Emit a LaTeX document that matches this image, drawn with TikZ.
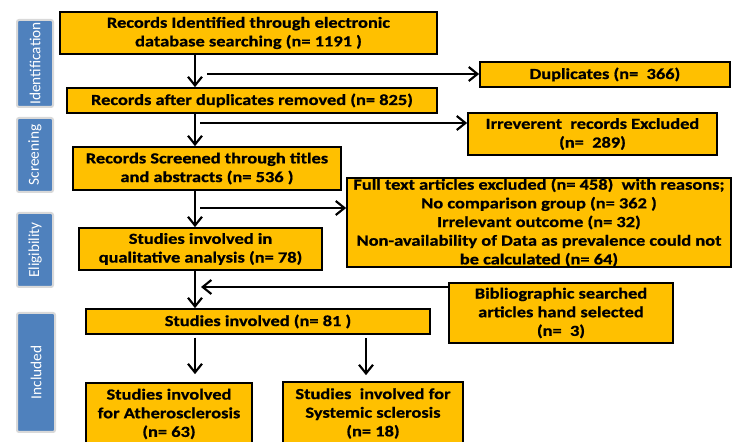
\documentclass[tikz,border=0pt]{standalone}
\usepackage{fontspec}
\setmainfont{Carlito}
\newfontfamily\boxfont{Carlito}[FakeStretch=1.2,BoldFeatures={FakeBold=0.8}]
\usetikzlibrary{arrows.meta}
\definecolor{boxorange}{HTML}{FFC000}
\definecolor{sideblue}{HTML}{4F81BD}
\begin{document}
\begin{tikzpicture}[x=0.75pt,y=-0.75pt,
  sz/.style 2 args={minimum width={#1*0.75pt},minimum height={#2*0.75pt}},
  ybox/.style={draw=black,line width=1.3pt,fill=boxorange,inner sep=0pt,align=center,font=\boxfont\fontsize{11.5}{14}\selectfont\bfseries},
  side/.style={fill=sideblue,draw=black!15,line width=1.5pt,rounded corners=1.5pt,inner sep=0pt,rotate=90,text=white,font=\fontsize{11.5}{12}\selectfont},
  arr/.style={line width=1.6pt,-{Straight Barb[length=6.5pt,width=10.5pt]}}
]
\useasboundingbox (0,0) rectangle (733,442);

% side labels
\node[side,sz={87}{36}] (sid) at (35,63.5) {Identification};
\node[side,sz={74}{36}] (sscr) at (35,155) {Screening};
\node[side,sz={74}{36}] (selig) at (35,250) {Eligibility};
\node[side,sz={119}{38}] (sincl) at (36,372.5) {Included};

% boxes
\node[ybox,sz={377}{42}] (b1) at (248.5,33) {Records Identified through electronic\\database searching (n= 1191 )};
\node[ybox,sz={370}{25}] (b2) at (252,100.5) {Records after duplicates removed (n= 825)};
\node[ybox,sz={250}{25}] (dup) at (605,74.5) {Duplicates (n=\ \ 366)};
\node[ybox,sz={249}{42}] (irr) at (592.5,134) {Irreverent\ \ records Excluded\\(n=\ \ 289)};
\node[ybox,sz={268}{43}] (b3) at (207,168.5) {Records Screened through titles\\and abstracts (n= 536 )};
\node[ybox,sz={384}{89}] (full) at (539,222.5) {Full text articles excluded (n= 458)\ \ with reasons;\\No comparison group (n= 362 )\\Irrelevant outcome (n= 32)\\Non-availability of Data as prevalence could not\\be calculated (n= 64)};
\node[ybox,sz={243}{42}] (b4) at (200.5,249) {Studies involved in\\qualitative analysis (n= 78)};
\node[ybox,sz={224}{60}] (bib) at (561,313) {Bibliographic searched\\articles hand selected\\(n=\ \ 3)};
\node[ybox,sz={344}{25}] (b5) at (258,321.5) {Studies involved (n= 81 )};
\node[ybox,sz={166}{62}] (b6) at (169,414) {Studies involved\\for Atherosclerosis\\(n= 63)};
\node[ybox,sz={180}{63}] (b7) at (373,413.5) {Studies\ \ involved for\\Systemic sclerosis\\(n= 18)};

% connectors
\coordinate (mx) at (195,0);
\coordinate (mx2) at (366,0);
\coordinate (h1) at (207,74);
\coordinate (h2) at (200,123);
\coordinate (h3) at (200,208);
\coordinate (h4) at (201,287);

\draw[arr] (b1.south -| mx) -- (b2.north -| mx);
\draw[arr] (b2.south -| mx) -- (b3.north -| mx);
\draw[arr] (b3.south -| mx) -- (b4.north -| mx);
\draw[arr] (b4.south -| mx) -- (b5.north -| mx);
\draw[arr,shorten <=2pt,shorten >=6pt] (b5.south -| mx) -- (b6.north -| mx);
\draw[arr,shorten <=2.5pt,shorten >=4.5pt] (b5.south -| mx2) -- (b7.north -| mx2);

\draw[arr] (h1) -- (h1 -| dup.west);
\draw[arr] (h2) -- (h2 -| irr.west);
\draw[arr] (h3) -- (h3 -| full.west);
\draw[arr] (h4 -| bib.west) -- (h4);
\end{tikzpicture}
\end{document}
